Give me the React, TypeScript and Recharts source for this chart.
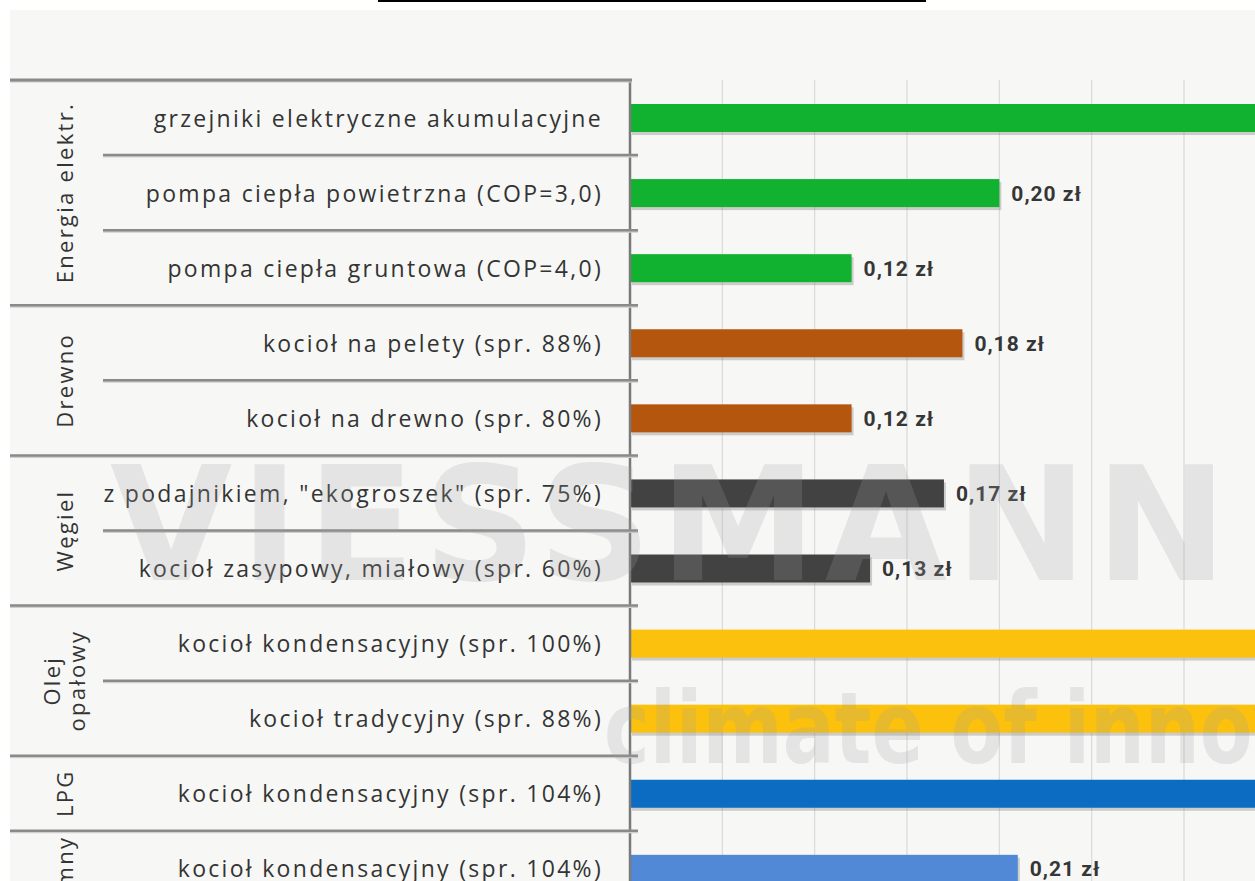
import React from 'react';
import { BarChart, Bar, XAxis, YAxis, CartesianGrid, LabelList, Cell } from 'recharts';

const ROW_LABELS = [
  'grzejniki elektryczne akumulacyjne',
  'pompa ciepła powietrzna (COP=3,0)',
  'pompa ciepła gruntowa (COP=4,0)',
  'kocioł na pelety (spr. 88%)',
  'kocioł na drewno (spr. 80%)',
  'z podajnikiem, "ekogroszek" (spr. 75%)',
  'kocioł zasypowy, miałowy (spr. 60%)',
  'kocioł kondensacyjny (spr. 100%)',
  'kocioł tradycyjny (spr. 88%)',
  'kocioł kondensacyjny (spr. 104%)',
  'kocioł kondensacyjny (spr. 104%)',
  'kocioł tradycyjny (spr. 90%)',
];

const VALUES = [0.40, 0.20, 0.12, 0.18, 0.12, 0.17, 0.13, 0.37, 0.42, 0.38, 0.21, 0.24];

const GROUP_NAMES = [['Energia elektr.'], ['Drewno'], ['Węgiel'], ['Olej', 'opałowy'], ['LPG'], ['Gaz ziemny']];
const GROUP_SIZES = [3, 2, 2, 2, 1, 2];
const GROUP_COLORS = ['#10b22f', '#b5560f', '#424242', '#fcc10c', '#0b6cc1', '#5289d6'];

const X_TICKS = [0, 0.05, 0.1, 0.15, 0.2, 0.25, 0.3, 0.35, 0.4, 0.45];

type Row = { id: number; label: string; value: number; group: number; first: boolean; last: boolean; size: number };

const rows: Row[] = [];
{
  let idx = 0;
  GROUP_SIZES.forEach((n, g) => {
    for (let k = 0; k < n; k++) {
      rows.push({
        id: idx,
        label: ROW_LABELS[idx],
        value: VALUES[idx],
        group: g,
        first: k === 0,
        last: k === n - 1,
        size: n,
      });
      idx++;
    }
  });
}

const LABEL_FONT = "'Open Sans', 'Noto Sans', sans-serif";
const VALUE_FONT = "'Roboto', sans-serif";
const TICK_MARGIN = 27;
const LEFT_EDGE = 10;
const INNER_EDGE = 103;
const GROUP_X = 65;
const SEP = '#8a8a8a';

const RowTick = (props: any) => {
  const { x, y, payload } = props;
  const row = rows[Number(payload.value)];
  if (!row) return null;
  const half = payload.offset || 37.5;
  const axisX = x + TICK_MARGIN;
  const sepY = y + half;
  const sepX1 = row.last ? LEFT_EDGE : INNER_EDGE;
  const groupCenter = y - half + row.size * half;
  const names = GROUP_NAMES[row.group];
  return (
    <g>
      <text
        x={x}
        y={y}
        textAnchor="end"
        dominantBaseline="central"
        fontFamily={LABEL_FONT}
        fontSize={23}
        letterSpacing={2.3}
        fill="#343434"
      >
        {row.label}
      </text>
      {row.id === 0 && (
        <g>
          <line x1={LEFT_EDGE} x2={axisX + 2} y1={y - half + 1.5} y2={y - half + 1.5} stroke="#c8c8c8" strokeWidth={2} />
          <line x1={LEFT_EDGE} x2={axisX + 2} y1={y - half} y2={y - half} stroke={SEP} strokeWidth={3} />
        </g>
      )}
      <line x1={sepX1} x2={axisX + 8} y1={sepY + 1.5} y2={sepY + 1.5} stroke="#cfcfcf" strokeWidth={2} />
      <line x1={sepX1} x2={axisX + 8} y1={sepY} y2={sepY} stroke={SEP} strokeWidth={2.5} />
      {row.first && (
        <text
          transform={`rotate(-90, ${GROUP_X}, ${groupCenter})`}
          x={GROUP_X}
          y={groupCenter}
          textAnchor="middle"
          fontFamily={LABEL_FONT}
          fontSize={22}
          letterSpacing={2.3}
          fill="#343434"
        >
          {names.length === 1 ? (
            <tspan x={GROUP_X} dy="0.35em">{names[0]}</tspan>
          ) : (
            names.map((n, i) => (
              <tspan key={i} x={GROUP_X} dy={i === 0 ? '-0.22em' : '1.15em'}>{n}</tspan>
            ))
          )}
        </text>
      )}
    </g>
  );
};

const ShadowBar = (props: any) => {
  const { x, y, width, height, fill } = props;
  if (!width || width <= 0) return null;
  return (
    <g>
      <rect x={x + 2} y={y + 3} width={width} height={height} fill="#7a7a7a" opacity={0.35} />
      <rect x={x} y={y} width={width} height={height} fill={fill} />
    </g>
  );
};

const fmt = (v: any) => `${Number(v).toFixed(2).replace('.', ',')} zł`;

const WATERMARK = 'rgba(160,160,160,0.22)';

export default function App() {
  return (
    <div style={{ position: 'relative', width: 1255, height: 881, overflow: 'hidden', background: '#ffffff' }}>
      <style>{'body{margin:0;}'}</style>
      <div style={{ position: 'absolute', left: 378, top: 0, width: 548, height: 2, background: '#000' }} />
      <div style={{ position: 'absolute', left: 10, top: 10, right: 0, bottom: 0, background: '#f7f8f6' }} />
      <div style={{ position: 'absolute', left: 0, top: 0 }}>
        <BarChart
          width={1461}
          height={981}
          data={rows}
          layout="vertical"
          margin={{ top: 80, right: 0, left: 10, bottom: 0 }}
          barCategoryGap={0}
        >
          <CartesianGrid horizontal={false} vertical stroke="#d9d9d9" strokeWidth={1.2} />
          <XAxis type="number" domain={[0, 0.45]} ticks={X_TICKS} hide allowDataOverflow />
          <YAxis
            type="category"
            dataKey="id"
            width={620}
            tick={<RowTick />}
            tickLine={false}
            tickSize={0}
            tickMargin={TICK_MARGIN}
            axisLine={{ stroke: '#7a7a7a', strokeWidth: 2.5 }}
            interval={0}
          />
          <Bar dataKey="value" barSize={28} isAnimationActive={false} shape={<ShadowBar />}>
            {rows.map((r) => (
              <Cell key={r.id} fill={GROUP_COLORS[r.group]} />
            ))}
            <LabelList
              dataKey="value"
              position="right"
              offset={12}
              formatter={fmt}
              fill="#363636"
              fontFamily={VALUE_FONT}
              fontWeight={700}
              fontSize={21}
              letterSpacing={1}
            />
          </Bar>
        </BarChart>
      </div>
      <div
        style={{
          position: 'absolute',
          left: 110,
          top: 440,
          fontFamily: "'DejaVu Sans', sans-serif",
          fontWeight: 700,
          fontSize: 158,
          lineHeight: '170px',
          letterSpacing: 8,
          color: WATERMARK,
          whiteSpace: 'nowrap',
          pointerEvents: 'none',
        }}
      >
        VIESSMANN
      </div>
      <div
        style={{
          position: 'absolute',
          left: 604,
          top: 664,
          fontFamily: "'DejaVu Sans', sans-serif",
          fontWeight: 700,
          fontSize: 100,
          lineHeight: '130px',
          color: WATERMARK,
          whiteSpace: 'nowrap',
          pointerEvents: 'none',
          transform: 'scaleX(0.77)',
          transformOrigin: 'left top',
        }}
      >
        climate of innovation
      </div>
    </div>
  );
}
